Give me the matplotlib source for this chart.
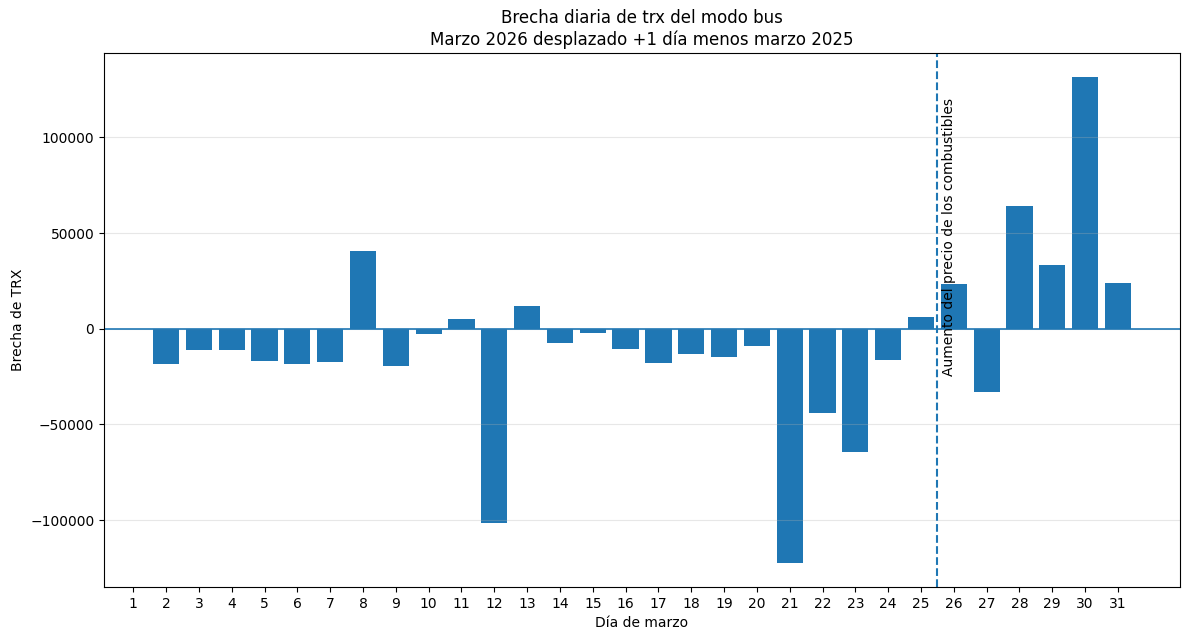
import matplotlib
matplotlib.use("Agg")
import matplotlib.pyplot as plt

# Brecha diaria (marzo 2026 desplazado +1 dia menos marzo 2025); dia 1 sin dato
dias = list(range(2, 32))
brecha = [-18500, -11300, -11300, -17000, -18500, -17400, 40700, -19700, -2700,
          5000, -101300, 11800, -7600, -2200, -10600, -17900, -13200, -14800,
          -9000, -122300, -44200, -64600, -16400, 6000, 23300, -33200, 64300,
          33300, 131400, 23900]
ticks = list(range(1, 32))
dia_evento = 25.5
texto_evento = "Aumento del precio de los combustibles"

fig, ax = plt.subplots(figsize=(11.89, 6.4), dpi=100)
ax.bar(dias, brecha, color="C0")
ax.axhline(0, color="C0", linewidth=1.2)
ax.axvline(dia_evento, color="C0", linestyle="--", linewidth=1.5)
ax.text(dia_evento + 0.15, -24500, texto_evento, rotation=90, va="bottom", ha="left", fontsize=10)

ax.set_xticks(ticks)
ax.grid(axis="y", alpha=0.3)
ax.set_title("Brecha diaria de trx del modo bus\nMarzo 2026 desplazado +1 día menos marzo 2025")
ax.set_xlabel("Día de marzo")
ax.set_ylabel("Brecha de TRX")

fig.subplots_adjust(left=0.0875, right=0.9924, top=0.917, bottom=0.0828)
plt.savefig("out.png")
